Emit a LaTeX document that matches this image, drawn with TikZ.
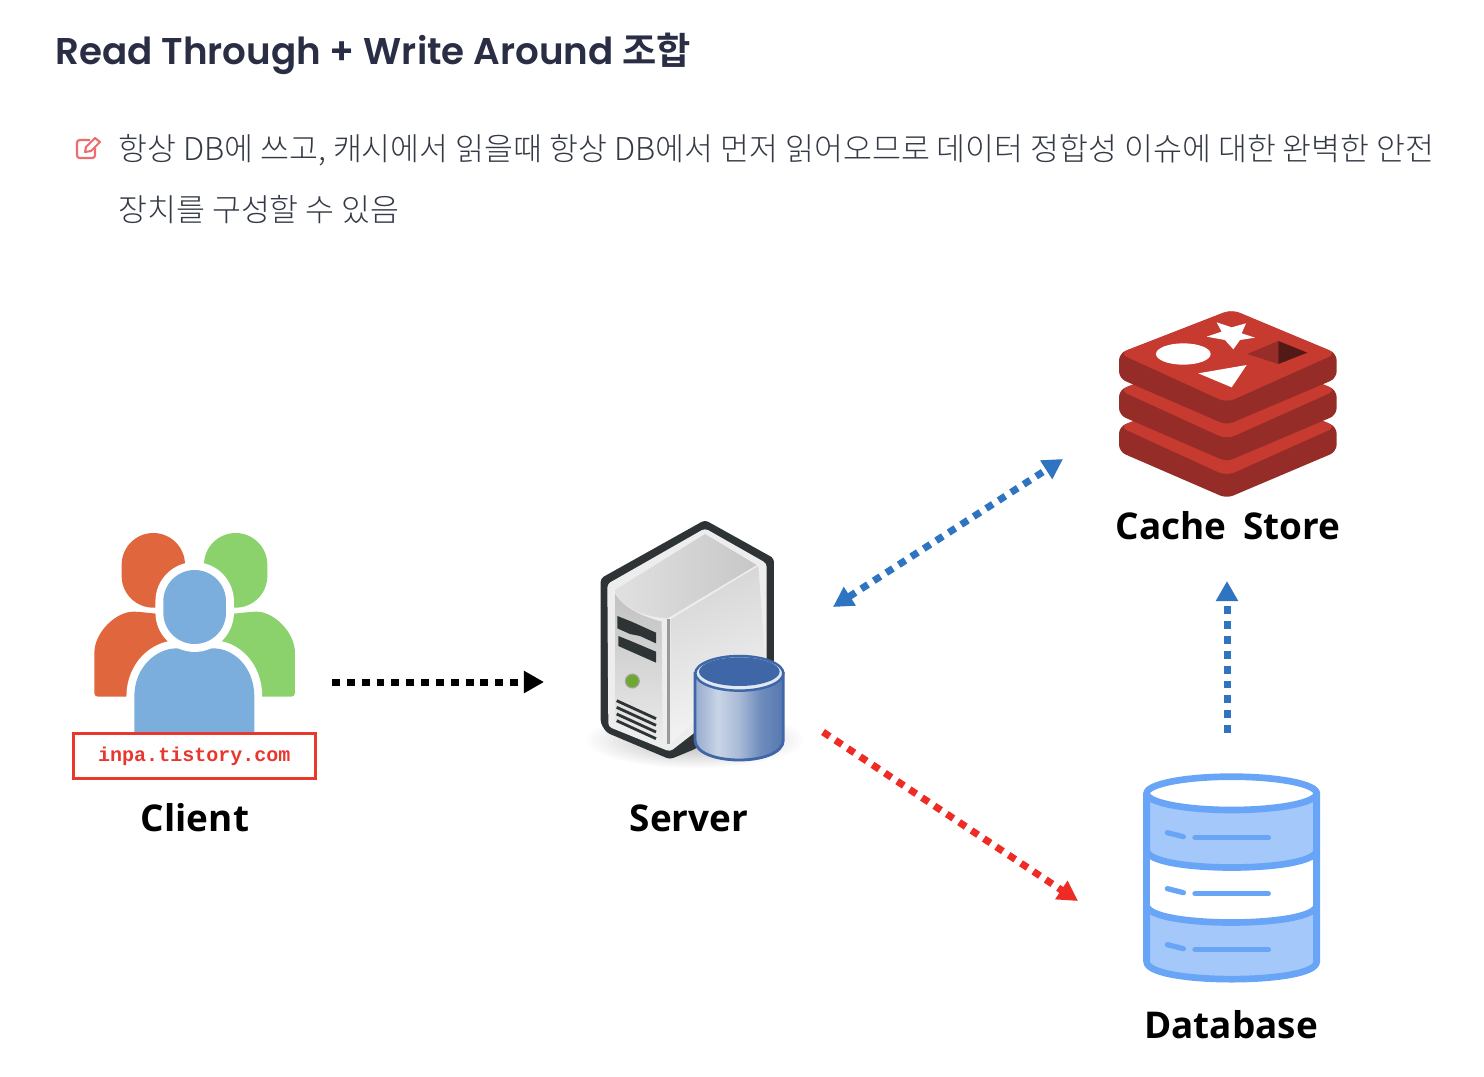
\documentclass[tikz,border=0pt]{standalone}
\usepackage{fontspec}
\usepackage{xcolor}
\usetikzlibrary{arrows.meta}
\setmainfont{Noto Sans}
\newfontfamily\titlefont{Poppins}[UprightFont=* SemiBold]
\newfontfamily\titlecjk{Noto Sans CJK KR}[UprightFont=* Bold]
\newfontfamily\bodycjk{Noto Sans CJK KR}[UprightFont=* Light]
\newfontfamily\labelfont{Open Sans}[UprightFont=* Bold]
\newfontfamily\markfont{Liberation Mono}[UprightFont=* Bold]
\definecolor{titleink}{HTML}{2A2E45}
\definecolor{bodyink}{HTML}{333945}
\definecolor{penred}{HTML}{EE6B6E}
\definecolor{redislight}{HTML}{C63A30}
\definecolor{redisdark}{HTML}{952C27}
\definecolor{orangeuser}{HTML}{E0663E}
\definecolor{greenuser}{HTML}{8BD26C}
\definecolor{blueuser}{HTML}{7BAEDD}
\definecolor{boxred}{HTML}{E8382D}
\definecolor{dbline}{HTML}{69A5F7}
\definecolor{dbfill}{HTML}{A4C8FA}
\definecolor{arrowblue}{HTML}{2F74C0}
\definecolor{arrowred}{HTML}{EE2B24}
\definecolor{srvdark}{HTML}{2E3436}
\definecolor{cylblue}{HTML}{3F66A6}
\definecolor{ledgreen}{HTML}{6EA832}
\pgfdeclarehorizontalshading{cylshade}{100bp}{color(0bp)=(white!45!cylblue);color(25bp)=(white!45!cylblue);color(38bp)=(white!72!cylblue);color(50bp)=(white!55!cylblue);color(62bp)=(white!25!cylblue);color(75bp)=(white!12!cylblue);color(100bp)=(white!12!cylblue)}
\tikzset{
  zoomed/.style 2 args={shift={(#1,#2)},x=0.006667cm,y=-0.006667cm},
  headtext/.style={inner sep=0pt,anchor=base west,text=titleink,font=\fontsize{21.2pt}{26pt}\selectfont},
  notetext/.style={inner sep=0pt,anchor=base west,text=bodyink,font=\bodycjk\fontsize{17.9pt}{20pt}\selectfont},
  iconlabel/.style={inner sep=0pt,anchor=base,text=black,font=\labelfont\fontsize{21pt}{24pt}\selectfont},
  flow/.style={line width=4pt,dash pattern=on 4.5pt off 3.95pt,-{Triangle[length=11.4pt,width=12pt]}},
  ringed/.style={preaction={draw=white,line width=9pt},fill=blueuser},
}
\begin{document}
\begin{tikzpicture}[x=0.02cm,y=-0.02cm]
\useasboundingbox (0,0) rectangle (1484,1076);
%
% heading and note
\node[headtext] (heading) at (55,64) {\titlefont Read Through + Write Around {\titlecjk 조합}};
\node[notetext] (lineone) at (118,160) {항상 DB에 쓰고, 캐시에서 읽을때 항상 DB에서 먼저 읽어오므로 데이터 정합성 이슈에 대한 완벽한 안전};
\node[notetext] (linetwo) at (118,221) {장치를 구성할 수 있음};
\draw[penred,line width=1.2pt,rounded corners=1.5pt] (90,140) -- (77,140) -- (77,158) -- (95,158) -- (95,148);
\draw[penred,line width=1.2pt,line join=round] (85,152) -- (86,147) -- (95,138) -- (100,142) -- (91,151) -- cycle;
%
% client
\begin{scope}[zoomed={60}{520}]
\fill[orangeuser,rounded corners=2pt] (103,530) -- (103,410) .. controls (103,335) and (170,275) .. (230,275) -- (330,285) -- (330,530) -- cycle;
\fill[orangeuser] (185,134) arc[start angle=180,end angle=360,radius=95] -- (375,168) arc[start angle=0,end angle=180,radius=95] -- cycle;
\fill[greenuser,rounded corners=2pt] (705,530) -- (705,410) .. controls (705,335) and (640,275) .. (580,275) -- (480,285) -- (480,530) -- cycle;
\fill[greenuser] (432,134) arc[start angle=180,end angle=360,radius=95] -- (622,168) arc[start angle=0,end angle=180,radius=95] -- cycle;
\path[ringed] (223,640) -- (223,530) .. controls (223,440) and (290,385) .. (350,385) -- (460,385) .. controls (520,385) and (583,440) .. (583,530) -- (583,640) -- cycle;
\path[ringed] (310,244) arc[start angle=180,end angle=360,radius=94] -- (498,278) arc[start angle=0,end angle=180,radius=94] -- cycle;
\fill[white] (150,640) rectangle (660,660);
\node[draw=boxred,line width=1.7pt,minimum width=137.7pt,minimum height=25.6pt,inner sep=0pt,text=boxred,font=\markfont\fontsize{11.4pt}{13pt}\selectfont] (mark) at (403,709) {inpa.tistory.com};
\end{scope}
\node[iconlabel] (client) at (195,831) {Client};
%
% server
\begin{scope}[zoomed={580}{510}]
\foreach \r in {1,0.96,...,0.2}
  \fill[black,opacity=0.012] (345,690) ellipse[x radius=325*\r,y radius=85*\r];
\fill[srvdark,rounded corners=2pt] (62,205) -- (375,30) -- (582,145) -- (582,500) -- (350,715) -- (270,748) -- (80,668) -- (62,640) -- cycle;
\fill[white!93!black,rounded corners=2pt] (82,222) -- (375,55) -- (560,160) -- (560,500) -- (270,725) -- (85,650) -- cycle;
\shade[left color=black!12,right color=black!22] (105,240) -- (375,72) -- (530,165) -- (262,325) .. controls (190,320) and (130,295) .. (105,245) -- cycle;
\shade[left color=black!16,right color=black!4,shading angle=20] (272,328) -- (535,168) -- (555,440) -- (272,700) -- cycle;
\shade[top color=black!24,bottom color=black!8] (105,250) .. controls (130,295) and (190,320) .. (245,335) -- (248,695) -- (105,635) -- cycle;
\fill[black!40] (260,328) rectangle (270,702);
\fill[srvdark] (112,318) -- (155,335) -- (228,368) -- (228,400) -- (180,378) -- (150,372) -- (112,355) -- cycle;
\fill[srvdark] (115,378) -- (150,392) -- (228,425) -- (228,458) -- (115,408) -- cycle;
\fill[ledgreen,draw=black!35,line width=0.6pt] (157,513) circle[radius=21];
\foreach \y in {0,20,40,60}
  \draw[srvdark,line width=1.6pt] (110,572+\y) -- (228,626+\y);
\path[shading=cylshade,draw=cylblue,line width=1.6pt] (345,490) -- (345,690) .. controls (345,770) and (610,770) .. (610,690) -- (610,490) -- cycle;
\draw[cylblue,fill=white!85!cylblue,line width=1.4pt] (478,490) ellipse[x radius=132,y radius=52];
\fill[cylblue] (478,485) ellipse[x radius=121,y radius=43];
\end{scope}
\node[iconlabel] (server) at (689,831) {Server};
%
% cache store
\begin{scope}[zoomed={1090}{290}]
\foreach \y in {220,110,0} {
  \fill[redisdark,rounded corners=4pt] (87,190+\y) -- (87,265+\y) -- (410,405+\y) -- (740,265+\y) -- (740,190+\y) -- (425,60+\y) -- cycle;
  \fill[redislight,rounded corners=5pt] (87,190+\y) -- (425,58+\y) -- (740,190+\y) -- (410,338+\y) -- cycle;
}
\fill[white] (280,192) ellipse[x radius=82,y radius=32];
\fill[white] (380,97) -- (425,112) -- (468,100) -- (455,130) -- (495,143) -- (450,150) -- (430,178) -- (405,150) -- (350,140) -- (395,125) -- cycle;
\fill[white] (325,250) -- (470,225) -- (425,292) -- cycle;
\fill[redisdark!95!redislight] (472,192) -- (565,153) -- (565,222) -- cycle;
\fill[black!30!redisdark!80!black] (565,153) -- (652,188) -- (565,222) -- cycle;
\end{scope}
\node[iconlabel] (cache) at (1228,539) {Cache\hspace{4pt} Store};
%
% database
\begin{scope}[zoomed={1130}{765}]
\draw[dbline,fill=dbfill,line width=3.8pt,line join=round] (50,85) -- (50,590) .. controls (50,660) and (560,660) .. (560,590) -- (560,85) -- cycle;
\fill[white] (50,255) .. controls (50,325) and (560,325) .. (560,255) -- (560,420) .. controls (560,490) and (50,490) .. (50,420) -- cycle;
\draw[dbline,line width=3.8pt] (50,85) -- (50,590) (560,85) -- (560,590);
\draw[dbline,line width=3.8pt] (50,255) .. controls (50,325) and (560,325) .. (560,255);
\draw[dbline,line width=3.8pt] (50,420) .. controls (50,490) and (560,490) .. (560,420);
\draw[dbline,fill=white,line width=3.8pt] (305,85) ellipse[x radius=255,y radius=50];
\foreach \y in {0,168,336} {
  \draw[dbline,line width=3pt,line cap=round] (112,203+\y) -- (160,215+\y);
  \draw[dbline,line width=3pt,line cap=round] (195,218+\y) -- (415,218+\y);
}
\end{scope}
\node[iconlabel] (database) at (1231,1038) {Database};
%
% connector ends
\coordinate (clientout) at (332,682);
\coordinate (serverin) at (544,682);
\coordinate (serverup) at (833,607);
\coordinate (cachein) at (1063,459);
\coordinate (serverdown) at (823,732);
\coordinate (dbin) at (1078,901);
\coordinate (dbup) at (1227,733);
\coordinate (cachedown) at (1227,581);
%
\draw[flow] (clientout) -- (serverin);
\draw[flow,arrowblue,{Triangle[length=11.4pt,width=12pt]}-{Triangle[length=11.4pt,width=12pt]}] (serverup) -- (cachein);
\draw[flow,arrowred] (serverdown) -- (dbin);
\draw[flow,arrowblue] (dbup) -- (cachedown);
%
\end{tikzpicture}
\end{document}
